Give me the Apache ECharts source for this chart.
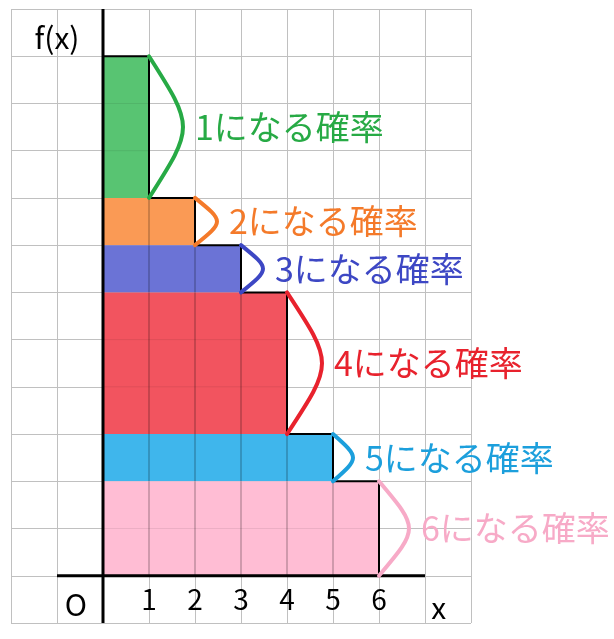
<!DOCTYPE html>
<html lang="ja">
  <head>
    <meta charset="UTF-8" />
    <script src="https://cdn.jsdelivr.net/npm/echarts@6/dist/echarts.min.js"></script>
    <title>確率</title>
    <style>
      body { margin: 0; background: #fff; }
      #container { width: 614px; height: 639px; }
    </style>
  </head>
  <body>
    <div id="container"></div>
    <script>
      // outcome k, its bar reaches x = k, stacked from 6 (bottom) to 1 (top)
      const outcomes = [1, 2, 3, 4, 5, 6];
      const barHeights = [3, 1, 1, 3, 1, 2];
      const labelTexts = ['1になる確率', '2になる確率', '3になる確率', '4になる確率', '5になる確率', '6になる確率'];
      const tickLabels = ['1', '2', '3', '4', '5', '6'];
      const axisNames = ['O', 'x', 'f(x)'];

      // styles (not data)
      const fillColors = ['#58c472', '#fa9a55', '#6b73d6', '#f2545f', '#3fb6ec', '#ffbdd4'];
      const markColors = ['#27aa45', '#f47a2a', '#3d47c4', '#e8222d', '#1c9fdc', '#f7aac7'];
      const bracketBulge = [34, 22, 22, 35, 20, 30];
      const FONT = '"Noto Sans CJK JP", "Noto Sans", sans-serif';

      // bottom/top of each bar from the stack (6 at the bottom)
      const lows = [], highs = [];
      let acc = 0;
      for (let i = outcomes.length - 1; i >= 0; i--) {
        lows[i] = acc;
        acc += barHeights[i];
        highs[i] = acc;
      }

      // staircase outline along the tops and right edges
      const outline = [];
      outcomes.forEach(function (k, i) {
        if (i === 0) outline.push([0, highs[i]]);
        outline.push([k, highs[i]]);
        outline.push([k, lows[i]]);
      });

      const barData = outcomes.map(function (k, i) {
        return [i, k, lows[i], highs[i]];
      });

      const chart = echarts.init(document.getElementById('container'), null, { renderer: 'canvas' });

      const gridLine = { show: true, lineStyle: { color: '#c0c0c0', width: 1 } };

      const option = {
        animation: false,
        grid: { left: 11, right: 143, top: 9, bottom: 16, outerBoundsMode: 'none', containLabel: false },
        xAxis: {
          type: 'value', min: -2, max: 8, interval: 1,
          axisLine: { show: false }, axisTick: { show: false }, axisLabel: { show: false },
          splitLine: gridLine
        },
        yAxis: {
          type: 'value', min: -1, max: 12, interval: 1,
          axisLine: { show: false }, axisTick: { show: false }, axisLabel: { show: false },
          splitLine: gridLine
        },
        series: [
          {
            name: 'bars',
            type: 'custom',
            z: 2,
            data: barData,
            renderItem: function (params, api) {
              const i = api.value(0), w = api.value(1), lo = api.value(2), hi = api.value(3);
              const tl = api.coord([0, hi]);
              const br = api.coord([w, lo]);
              const children = [{
                type: 'rect',
                shape: { x: tl[0], y: tl[1], width: br[0] - tl[0], height: br[1] - tl[1] },
                style: { fill: fillColors[i] }
              }];
              for (let x = 1; x < w; x++) {
                const a = api.coord([x, hi]), b = api.coord([x, lo]);
                children.push({
                  type: 'line',
                  shape: { x1: a[0], y1: a[1], x2: b[0], y2: b[1] },
                  style: { stroke: 'rgba(0,0,0,0.25)', lineWidth: 1.5 }
                });
              }
              for (let y = lo + 1; y < hi; y++) {
                const a = api.coord([0, y]), b = api.coord([w, y]);
                children.push({
                  type: 'line',
                  shape: { x1: a[0], y1: a[1], x2: b[0], y2: b[1] },
                  style: { stroke: 'rgba(0,0,0,0.08)', lineWidth: 1 }
                });
              }
              return { type: 'group', children: children };
            }
          },
          {
            name: 'outline',
            type: 'line',
            z: 3,
            data: outline,
            symbol: 'none',
            lineStyle: { color: '#000', width: 2 }
          },
          {
            name: 'x axis',
            type: 'line',
            z: 4,
            data: [[-1, 0], [7, 0]],
            symbol: 'none',
            lineStyle: { color: '#000', width: 3 }
          },
          {
            name: 'y axis',
            type: 'line',
            z: 4,
            data: [[0, -1], [0, 12]],
            symbol: 'none',
            lineStyle: { color: '#000', width: 3 }
          },
          {
            name: 'brackets',
            type: 'custom',
            z: 5,
            data: barData,
            renderItem: function (params, api) {
              const i = api.value(0), w = api.value(1), lo = api.value(2), hi = api.value(3);
              const p0 = api.coord([w, hi]);
              const p3 = api.coord([w, lo]);
              const midY = (p0[1] + p3[1]) / 2;
              const b = bracketBulge[i];
              const cx = p0[0] + b * 4 / 3;
              return {
                type: 'group',
                children: [
                  {
                    type: 'bezierCurve',
                    shape: {
                      x1: p0[0], y1: p0[1], x2: p3[0], y2: p3[1],
                      cpx1: cx, cpy1: midY, cpx2: cx, cpy2: midY
                    },
                    style: { stroke: markColors[i], lineWidth: 4, fill: null, lineCap: 'round' }
                  },
                  {
                    type: 'text',
                    x: p0[0] + b + 12,
                    y: midY,
                    style: {
                      text: labelTexts[i],
                      fill: markColors[i],
                      font: '34px ' + FONT,
                      align: 'left',
                      verticalAlign: 'middle'
                    }
                  }
                ]
              };
            }
          },
          {
            name: 'tick labels',
            type: 'custom',
            z: 5,
            data: outcomes.map(function (k, i) { return [k, 0, i]; }),
            renderItem: function (params, api) {
              const p = api.coord([api.value(0), api.value(1)]);
              return {
                type: 'text',
                x: p[0],
                y: p[1] + 24,
                style: {
                  text: tickLabels[api.value(2)],
                  fill: '#000',
                  font: '28px ' + FONT,
                  align: 'center',
                  verticalAlign: 'middle'
                }
              };
            }
          },
          {
            name: 'axis names',
            type: 'custom',
            z: 5,
            data: [[0, -0.59, -0.6], [1, 7.3, -0.68], [2, -1, 11.4]],
            renderItem: function (params, api) {
              const p = api.coord([api.value(1), api.value(2)]);
              return {
                type: 'text',
                x: p[0],
                y: p[1],
                style: {
                  text: axisNames[api.value(0)],
                  fill: '#000',
                  font: '30px ' + FONT,
                  align: 'center',
                  verticalAlign: 'middle'
                }
              };
            }
          }
        ]
      };

      chart.setOption(option);
      window.addEventListener('resize', chart.resize);
    </script>
  </body>
</html>
